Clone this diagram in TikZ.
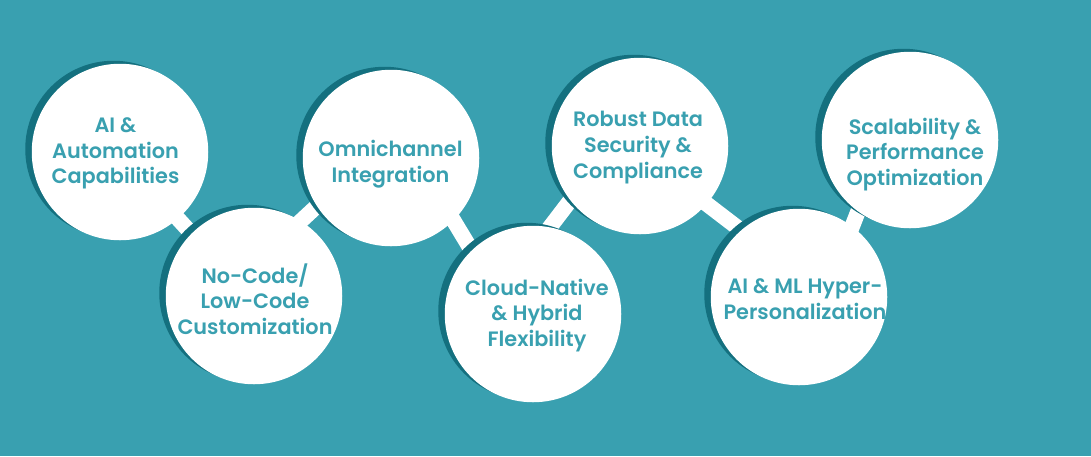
\documentclass[tikz,border=0pt]{standalone}
\usepackage{fontspec}
\setmainfont{Poppins}[UprightFont=* SemiBold]
\definecolor{bgteal}{HTML}{39A0B0}
\definecolor{shade}{HTML}{14707F}
\tikzset{
  disc/.style={circle,fill=white,minimum size=176.5pt,inner sep=0pt},
  shadow/.style={circle,fill=shade,minimum size=176.5pt,inner sep=0pt},
  link/.style={draw=white,line width=15.5pt,shorten >=-8pt,shorten <=-8pt},
  caption/.style={text=bgteal,font=\fontsize{20.8}{25.7}\selectfont,align=center,inner sep=0pt}
}
\begin{document}
\begin{tikzpicture}[x=1pt,y=-1pt]
\fill[bgteal] (0,0) rectangle (1091,456);
\useasboundingbox (0,0) rectangle (1091,456);
% anchors only, so links can be drawn below the shadows
\node[disc,fill=none] (c1) at (120,152) {};
\node[disc,fill=none] (c2) at (254,296) {};
\node[disc,fill=none] (c3) at (391,158) {};
\node[disc,fill=none] (c4) at (533,314) {};
\node[disc,fill=none] (c5) at (640,146) {};
\node[disc,fill=none] (c6) at (799,297) {};
\node[disc,fill=none] (c7) at (910,140) {};
\draw[link] (c1.-49.6) -- (c2.135);
\draw[link] (c2.58) -- (c3.213);
\draw[link] (c3.-45) -- (c4.134);
\draw[link] (c4.79) -- (c5.218);
\draw[link] (c5.-41) -- (c6.131);
\draw[link] (c6.53) -- (c7.234);
\foreach \n/\x/\y in {s1/120/152,s2/254/296,s3/391/158,s4/533/314,s5/640/146,s6/799/297,s7/910/140}
  \node[shadow] (\n) at (\x-6.5,\y-3) {};
\foreach \n/\x/\y in {d1/120/152,d2/254/296,d3/391/158,d4/533/314,d5/640/146,d6/799/297,d7/910/140}
  \node[disc] (\n) at (\x,\y) {};
\node[caption] (t1) at (115.5,153.5) {AI \&\\Automation\\Capabilities};
\node[caption] (t2) at (255,299) {No-Code/\\Low-Code\\Customization};
\node[caption] (t3) at (390.5,164.5) {Omnichannel\\Integration};
\node[caption] (t4) at (537,315.5) {Cloud-Native\\\& Hybrid\\Flexibility};
\node[caption] (t5) at (638,147.5) {Robust Data\\Security \&\\Compliance};
\node[caption] (t6) at (805,299.5) {AI \& ML Hyper-\\Personalization};
\node[caption] (t7) at (915,154.5) {Scalability \&\\Performance\\Optimization};
\end{tikzpicture}
\end{document}
